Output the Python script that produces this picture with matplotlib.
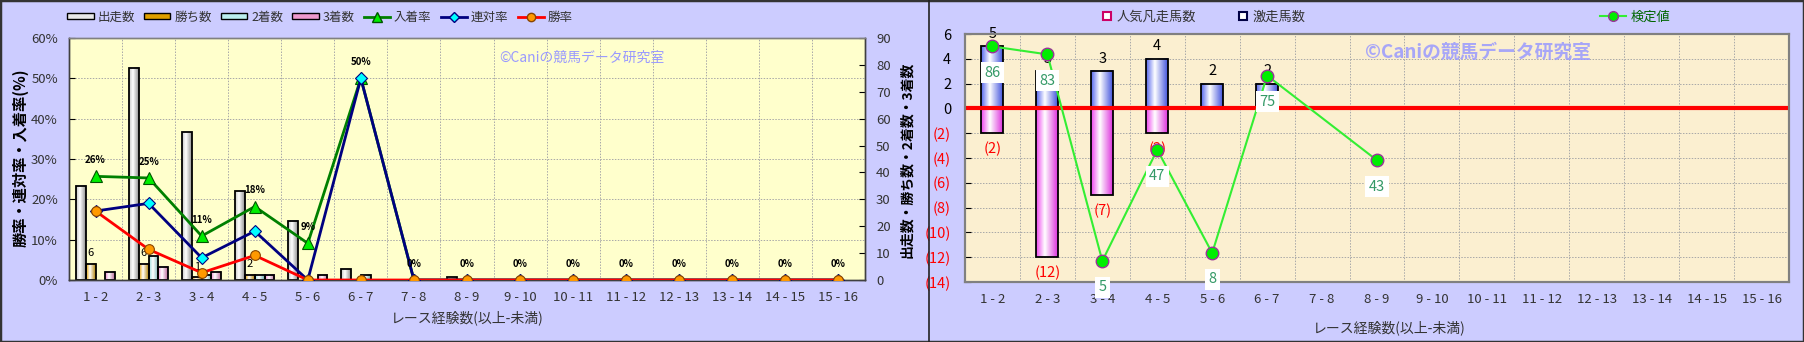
import numpy as np
import matplotlib.pyplot as plt
from matplotlib.colors import LinearSegmentedColormap
from matplotlib.lines import Line2D
from matplotlib.patches import Patch, Rectangle

plt.rcParams['font.family'] = ['Noto Sans CJK JP', 'DejaVu Sans']

categories = ['1 - 2', '2 - 3', '3 - 4', '4 - 5', '5 - 6', '6 - 7', '7 - 8', '8 - 9',
              '9 - 10', '10 - 11', '11 - 12', '12 - 13', '13 - 14', '14 - 15', '15 - 16']

# left chart: counts
starts = [35, 79, 55, 33, 22, 4, 0, 1, 0, 0, 0, 0, 0, 0, 0]
wins = [6, 6, 1, 2, 0, 0, 0, 0, 0, 0, 0, 0, 0, 0, 0]
seconds = [0, 9, 2, 2, 0, 2, 0, 0, 0, 0, 0, 0, 0, 0, 0]
thirds = [3, 5, 3, 2, 2, 0, 0, 0, 0, 0, 0, 0, 0, 0, 0]
# left chart: rates (%)
win_rate = [17.1, 7.6, 1.8, 6.1, 0, 0, 0, 0, 0, 0, 0, 0, 0, 0, 0]
rentai_rate = [17.1, 19.0, 5.5, 12.1, 0, 50, 0, 0, 0, 0, 0, 0, 0, 0, 0]
place_rate = [25.7, 25.3, 10.9, 18.2, 9.1, 50, 0, 0, 0, 0, 0, 0, 0, 0, 0]

# right chart
gekiso = [5, 3, 3, 4, 2, 2, 0, 0, 0, 0, 0, 0, 0, 0, 0]
bonso = [2, 12, 7, 2, 0, 0, 0, 0, 0, 0, 0, 0, 0, 0, 0]
kentei = [86, 83, 5, 47, 8, 75, np.nan, 43, np.nan, np.nan, np.nan, np.nan, np.nan, np.nan, np.nan]

W, H = 1804, 342
x = np.arange(len(categories))
TXT = '#333333'
GRID = dict(color='#a8a8a8', lw=0.7, ls=(0, (1.5, 1.5)), zorder=0.5)


def grad_bar(ax, xc, y0, y1, w, c_left, c_right, z=2):
    if y0 == y1:
        return
    cmap = LinearSegmentedColormap.from_list('g', [(0, c_left), (0.4, 'white'), (1, c_right)])
    lo, hi = min(y0, y1), max(y0, y1)
    ax.imshow(np.linspace(0, 1, 64).reshape(1, -1), cmap=cmap, aspect='auto',
              extent=[xc - w / 2, xc + w / 2, lo, hi], zorder=z, interpolation='bilinear')
    ax.add_patch(Rectangle((xc - w / 2, lo), w, hi - lo, fill=False, ec='black', lw=1.3, zorder=z + 0.1))


fig = plt.figure(figsize=(W / 100, H / 100), dpi=100)
fig.patch.set_facecolor('#ccccff')

# ---------------- left chart ----------------
ax = fig.add_axes([69 / W, 1 - 280 / H, 796 / W, 242 / H])
ax.set_facecolor('#ffffcc')
axp = ax.twinx()

bw = 0.185
bar_styles = [(starts, '#c8c8c8', '#909090'), (wins, '#e0a000', '#b08000'),
              (seconds, '#99dddd', '#66aaaa'), (thirds, '#ee88cc', '#bb6699')]
for k, (vals, cl, cr) in enumerate(bar_styles):
    for i, v in enumerate(vals):
        grad_bar(ax, x[i] + (k - 1.5) * bw, 0, v, bw, cl, cr)
for i, v in enumerate(wins):
    if v:
        ax.annotate(str(v), (x[i] - 0.5 * bw, v), xytext=(0, 4), textcoords='offset points',
                    ha='center', va='bottom', fontsize=8, color='black', zorder=5)

for yy in range(15, 90, 15):
    ax.axhline(yy, **GRID)
for xx in np.arange(0.5, 14.5, 1):
    ax.axvline(xx, **GRID)

ax.set_xlim(-0.5, 14.5)
ax.set_ylim(0, 90)
ax.set_yticks(range(0, 91, 10))
ax.yaxis.tick_right()
ax.set_xticks(x)
ax.set_xticklabels(categories)
ax.tick_params(axis='x', length=0, pad=8, labelsize=9.5, labelcolor=TXT)
ax.tick_params(axis='y', direction='in', length=4, pad=8, labelsize=9.5, labelcolor=TXT)

axp.plot(x, place_rate, color='#008000', lw=2, marker='^', ms=9, mfc='#00ee00', mec='#005500', mew=0.8, zorder=3)
axp.plot(x, rentai_rate, color='#000080', lw=2, marker='D', ms=6, mfc='#00ffff', mec='#000080', mew=0.8, zorder=4)
axp.plot(x, win_rate, color='#ff0000', lw=2, marker='o', ms=7, mfc='#ff9900', mec='#884400', mew=0.8, zorder=5)
for i, v in enumerate(place_rate):
    axp.annotate(f'{v:.0f}%', (x[i], v), xytext=(0, 8), textcoords='offset points',
                 ha='center', va='bottom', fontsize=7, fontweight='bold', color='black', zorder=6)
axp.set_ylim(0, 60)
axp.set_yticks(range(0, 61, 10))
axp.set_yticklabels([f'{t}%' for t in range(0, 61, 10)])
axp.yaxis.tick_left()
axp.tick_params(axis='y', direction='in', length=4, pad=8, labelsize=9.5, labelcolor=TXT)

for a in (ax, axp):
    for s in a.spines.values():
        s.set_color('#808080')
        s.set_linewidth(1)
    a.spines['left'].set_color('#404040')
    a.spines['right'].set_color('#404040')
    a.spines['bottom'].set_color('#404040')

ax.text(0.54, 0.92, '©Caniの競馬データ研究室', transform=ax.transAxes, fontsize=10,
        color='#9999ff', ha='left', va='center', zorder=6)

fig.text(20 / W, 1 - 158 / H, '勝率・連対率・入着率(%)', rotation=90, ha='center', va='center',
         fontsize=11, fontweight='bold', color='black')
fig.text(907 / W, 1 - 160 / H, '出走数・勝ち数・2着数・3着数', rotation=90, ha='center', va='center',
         fontsize=10, fontweight='bold', color='black')
fig.text(467 / W, 1 - 318 / H, 'レース経験数(以上-未満)', ha='center', va='center', fontsize=10, color=TXT)

handles = [Patch(fc='#e8e8e8', ec='black', label='出走数'),
           Patch(fc='#e0a000', ec='black', label='勝ち数'),
           Patch(fc='#bbeeee', ec='black', label='2着数'),
           Patch(fc='#ee99cc', ec='black', label='3着数'),
           Line2D([], [], color='#008000', lw=2, marker='^', ms=7, mfc='#00ee00', mec='#005500', label='入着率'),
           Line2D([], [], color='#000080', lw=2, marker='D', ms=5, mfc='#00ffff', mec='#000080', label='連対率'),
           Line2D([], [], color='#ff0000', lw=2, marker='o', ms=6, mfc='#ff9900', mec='#884400', label='勝率')]
fig.legend(handles=handles, loc='center left', bbox_to_anchor=(56 / W, 1 - 17 / H), ncol=7,
           frameon=False, fontsize=9, handlelength=2.1, handleheight=0.45, handletextpad=0.3,
           columnspacing=0.75, labelcolor=TXT)

# ---------------- right chart ----------------
bx = fig.add_axes([965 / W, 1 - 282 / H, 824 / W, 248 / H])
bx.set_facecolor('#fbefd0')
bxt = bx.twinx()

rw = 0.4
for i in x:
    grad_bar(bx, i, 0, gekiso[i], rw, '#5566ee', '#4455dd')
    grad_bar(bx, i, 0, -bonso[i], rw, '#ee44ee', '#dd33dd')
    if gekiso[i]:
        bx.annotate(str(gekiso[i]), (i, gekiso[i]), xytext=(0, 4), textcoords='offset points',
                    ha='center', va='bottom', fontsize=10.5, color='black', zorder=5)
    if bonso[i]:
        bx.annotate(f'({bonso[i]})', (i, -bonso[i]), xytext=(0, -6), textcoords='offset points',
                    ha='center', va='top', fontsize=10.5, color='#ff0000', zorder=5)

bx.axhline(0, color='#ff0000', lw=3, zorder=4)
for yy in range(-12, 6, 2):
    bx.axhline(yy, **GRID)
for xx in np.arange(0.5, 14.5, 1):
    bx.axvline(xx, **GRID)

bx.set_xlim(-0.5, 14.5)
bx.set_ylim(-14, 6)
yt = list(range(-14, 7, 2))
bx.set_yticks(yt)
bx.set_yticklabels([str(t) if t >= 0 else f'({-t})' for t in yt])
for lab, t in zip(bx.get_yticklabels(), yt):
    lab.set_color('black' if t >= 0 else '#ff0000')
bx.set_xticks(x)
bx.set_xticklabels(categories)
bx.tick_params(axis='x', length=0, pad=8, labelsize=9.5, labelcolor=TXT)
bx.tick_params(axis='y', direction='in', length=4, pad=10, labelsize=10.5)

kv = np.array(kentei, dtype=float)
ok = ~np.isnan(kv)
bxt.plot(x[ok], kv[ok], color='#33ee33', lw=1.5, marker='o', ms=9, mfc='#00ee00', mec='#993399',
         mew=1, zorder=5)
for i in x[ok]:
    bxt.annotate(f'{kv[i]:.0f}', (i, kv[i]), xytext=(0, -19), textcoords='offset points',
                 ha='center', va='center', fontsize=10.5, color='#339966', zorder=7,
                 bbox=dict(fc='white', ec='none', pad=2.5))
bxt.set_ylim(-2.95, 90.7)
bxt.set_yticks([])

for a in (bx, bxt):
    for s in a.spines.values():
        s.set_color('#808080')
        s.set_linewidth(1.5)

bx.text(0.485, 0.927, '©Caniの競馬データ研究室', transform=bx.transAxes, fontsize=13.5,
        fontweight='bold', color='#9999ff', alpha=0.85, ha='left', va='center', zorder=6)
fig.text(1389 / W, 1 - 328 / H, 'レース経験数(以上-未満)', ha='center', va='center', fontsize=10, color=TXT)

h2 = [Line2D([], [], ls='none', marker='s', ms=6, mfc='white', mec='#cc0066', mew=1.5, label='人気凡走馬数'),
      Line2D([], [], ls='none', marker='s', ms=6, mfc='white', mec='#000044', mew=1.5, label='激走馬数')]
fig.legend(handles=h2, loc='center left', bbox_to_anchor=(1090 / W, 1 - 17 / H), ncol=2,
           frameon=False, fontsize=9.5, handlelength=0.8, handletextpad=0.3, columnspacing=3.2,
           labelcolor=TXT)
h3 = [Line2D([], [], color='#33ee33', lw=1.5, marker='o', ms=7, mfc='#00ee00', mec='#993399', label='検定値')]
fig.legend(handles=h3, loc='center left', bbox_to_anchor=(1588 / W, 1 - 17 / H), frameon=False,
           fontsize=9.5, handlelength=2.0, handletextpad=0.3, labelcolor='#006600')

fig.add_artist(Line2D([929 / W, 929 / W], [0, 1], color='#222222', lw=1.2, transform=fig.transFigure))
fig.add_artist(Rectangle((0, 0), 1, 1, transform=fig.transFigure, fill=False, ec='#333333', lw=2.5))

fig.savefig('out.png', dpi=100, facecolor=fig.get_facecolor())
